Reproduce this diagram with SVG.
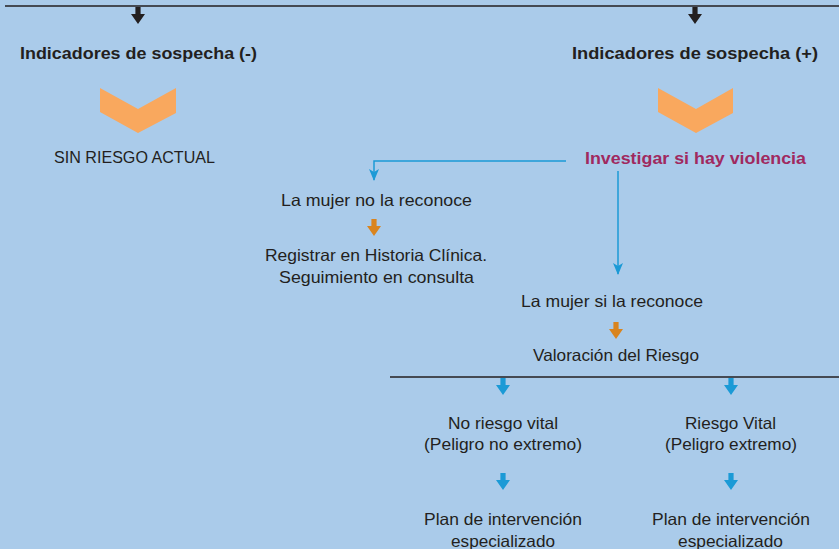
<svg xmlns="http://www.w3.org/2000/svg" width="839" height="549" viewBox="0 0 839 549">
  <style>
    .t { font-family: "Liberation Sans", Arial, sans-serif; font-size: 16.5px; fill: #231F20; text-anchor: middle; }
    .b { font-weight: bold; }
    .mag { fill: #A0295F; }
    .conn { fill: none; stroke: #1B9AD6; stroke-width: 1.5; }
    .rule { fill: none; stroke: #231F20; stroke-width: 1.6; }
    .chev { fill: #F9A85E; }
  </style>
  <defs>
    <path id="blk" d="M-2.6,0 L2.6,0 L2.6,7 L7,7 L0,17 L-7,7 L-2.6,7 Z"/>
  </defs>
  <rect x="0" y="0" width="839" height="549" fill="#AACBEA"/>

  <g id="connectors">
    <line class="rule" x1="5" y1="6" x2="839" y2="6"/>
    <use href="#blk" x="138" y="7" fill="#231F20"/>
    <use href="#blk" x="695" y="7" fill="#231F20"/>
    <polyline class="conn" points="566,161 374,161 374,180"/>
    <line class="conn" x1="618" y1="171" x2="618" y2="274"/>
    <use href="#blk" x="374" y="219" fill="#D9841E"/>
    <use href="#blk" x="616" y="322" fill="#D9841E"/>
    <line class="rule" x1="390" y1="377" x2="839" y2="377"/>
    <use href="#blk" x="503" y="378" fill="#1B9AD6"/>
    <use href="#blk" x="731" y="378" fill="#1B9AD6"/>
    <use href="#blk" x="503" y="473" fill="#1B9AD6"/>
    <use href="#blk" x="731" y="473" fill="#1B9AD6"/>
    <g fill="#1B9AD6">
      <path d="M369,169 L374,172 L379,169 L374,181 Z"/>
      <path d="M613,263 L618,266 L623,263 L618,275 Z"/>
    </g>
  </g>

  <g id="ind-neg">
    <text class="t b" x="138.5" y="59" textLength="237" lengthAdjust="spacingAndGlyphs">Indicadores de sospecha (-)</text>
  </g>
  <g id="ind-pos">
    <text class="t b" x="695" y="59" textLength="246" lengthAdjust="spacingAndGlyphs">Indicadores de sospecha (+)</text>
  </g>
  <g id="chev-left">
    <polygon class="chev" points="100,88 138,109 176,88 176,113 138,133 100,112"/>
  </g>
  <g id="chev-right">
    <polygon class="chev" points="658,88 696,109 733,88 733,113 696,133 658,112"/>
  </g>
  <g id="sin-riesgo">
    <text class="t" x="134.5" y="163" textLength="161" lengthAdjust="spacingAndGlyphs">SIN RIESGO ACTUAL</text>
  </g>
  <g id="investigar">
    <text class="t b mag" x="695.5" y="164" textLength="221" lengthAdjust="spacingAndGlyphs">Investigar si hay violencia</text>
  </g>
  <g id="no-reconoce">
    <text class="t" x="376.5" y="206" textLength="191" lengthAdjust="spacingAndGlyphs">La mujer no la reconoce</text>
  </g>
  <g id="registrar">
    <text class="t" x="376" y="261" textLength="222" lengthAdjust="spacingAndGlyphs">Registrar en Historia Clínica.</text>
    <text class="t" x="376.5" y="283" textLength="195" lengthAdjust="spacingAndGlyphs">Seguimiento en consulta</text>
  </g>
  <g id="si-reconoce">
    <text class="t" x="612" y="307" textLength="182" lengthAdjust="spacingAndGlyphs">La mujer si la reconoce</text>
  </g>
  <g id="valoracion">
    <text class="t" x="616" y="361" textLength="166" lengthAdjust="spacingAndGlyphs">Valoración del Riesgo</text>
  </g>
  <g id="no-riesgo-vital">
    <text class="t" x="503" y="429" textLength="110" lengthAdjust="spacingAndGlyphs">No riesgo vital</text>
    <text class="t" x="503" y="450" textLength="158" lengthAdjust="spacingAndGlyphs">(Peligro no extremo)</text>
  </g>
  <g id="riesgo-vital">
    <text class="t" x="730.5" y="429" textLength="91" lengthAdjust="spacingAndGlyphs">Riesgo Vital</text>
    <text class="t" x="731" y="450" textLength="132" lengthAdjust="spacingAndGlyphs">(Peligro extremo)</text>
  </g>
  <g id="plan-left">
    <text class="t" x="503" y="525" textLength="158" lengthAdjust="spacingAndGlyphs">Plan de intervención</text>
    <text class="t" x="503" y="547" textLength="104" lengthAdjust="spacingAndGlyphs">especializado</text>
  </g>
  <g id="plan-right">
    <text class="t" x="731" y="525" textLength="158" lengthAdjust="spacingAndGlyphs">Plan de intervención</text>
    <text class="t" x="730.5" y="547" textLength="105" lengthAdjust="spacingAndGlyphs">especializado</text>
  </g>
</svg>
